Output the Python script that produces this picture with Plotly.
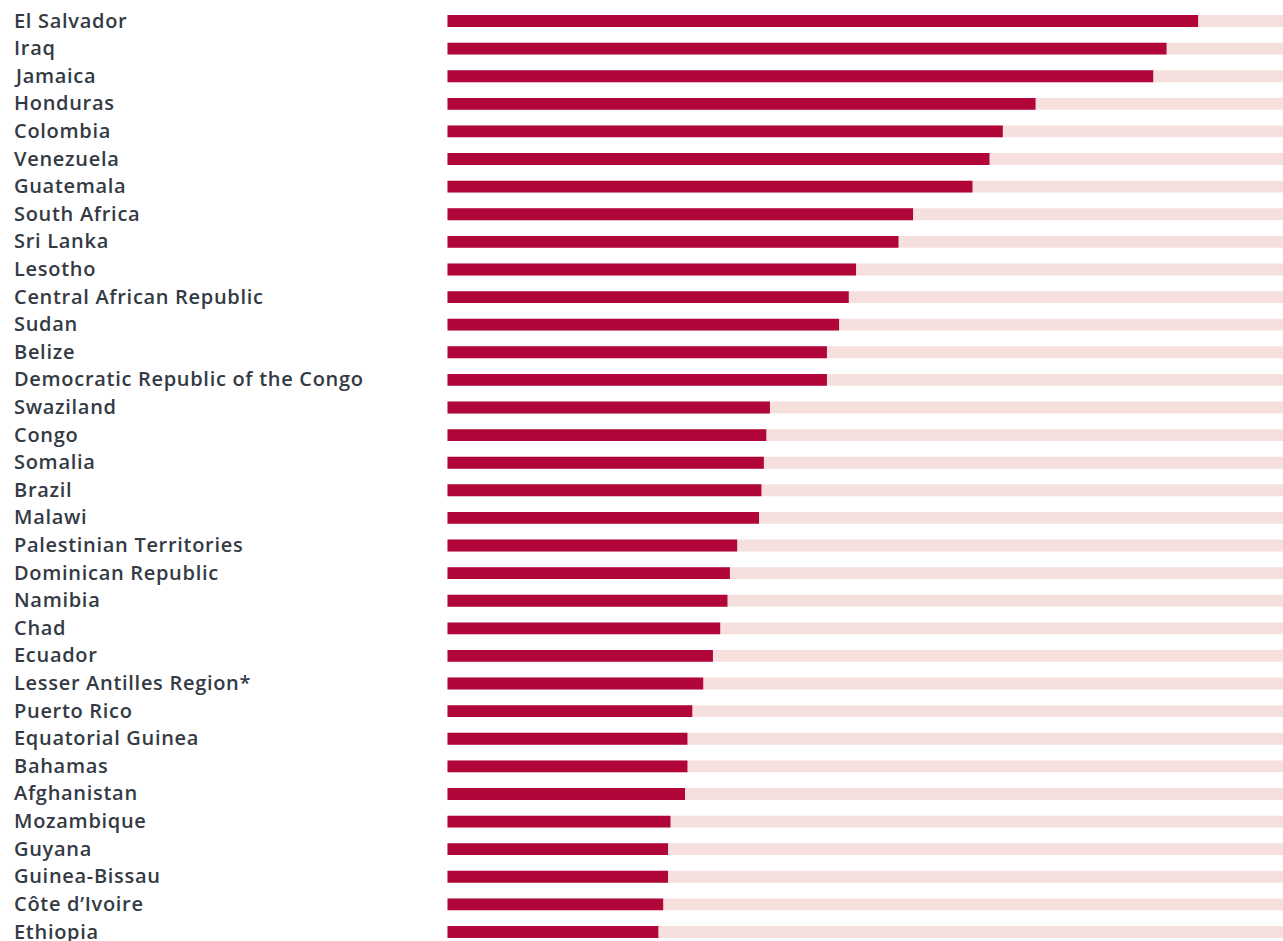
import plotly.graph_objects as go

countries = [
    "El Salvador", "Iraq", "Jamaica", "Honduras", "Colombia", "Venezuela",
    "Guatemala", "South Africa", "Sri Lanka", "Lesotho", "Central African Republic",
    "Sudan", "Belize", "Democratic Republic of the Congo", "Swaziland", "Congo",
    "Somalia", "Brazil", "Malawi", "Palestinian Territories", "Dominican Republic",
    "Namibia", "Chad", "Ecuador", "Lesser Antilles Region*", "Puerto Rico",
    "Equatorial Guinea", "Bahamas", "Afghanistan", "Mozambique", "Guyana",
    "Guinea-Bissau", "Côte d\u2019Ivoire", "Ethiopia",
]
values = [
    61.9, 59.3, 58.2, 48.5, 45.8, 44.7,
    43.3, 38.4, 37.2, 33.7, 33.1,
    32.3, 31.3, 31.3, 26.6, 26.3,
    26.1, 25.9, 25.7, 23.9, 23.3,
    23.1, 22.5, 21.9, 21.1, 20.2,
    19.8, 19.8, 19.6, 18.4, 18.2,
    18.2, 17.8, 17.4,
]
scale_max = 68.9
background = [scale_max] * len(countries)

BAR = "#b0063a"
BG = "#f6e0de"
TEXT = "#343a44"

W, H = 1283, 941

fig = go.Figure()
fig.add_trace(go.Bar(
    x=background, y=countries, orientation="h",
    marker=dict(color=BG, line=dict(width=0)),
    width=0.43, hoverinfo="skip", showlegend=False,
))
fig.add_trace(go.Bar(
    x=values, y=countries, orientation="h",
    marker=dict(color=BAR, line=dict(width=0)),
    width=0.43, showlegend=False,
    hovertemplate="%{y}: %{x}<extra></extra>",
))

for c in countries:
    fig.add_annotation(
        x=12 / W, xref="paper", xanchor="left",
        y=c, yref="y", yanchor="middle", yshift=1,
        text='<span style="letter-spacing:0.7px">' + c + "</span>",
        showarrow=False,
        font=dict(family="Open Sans", size=20, weight=600, color=TEXT),
    )

row_px = (932 - 21) / 33
r0 = -21 / row_px
r1 = r0 + H / row_px

fig.update_layout(
    width=W, height=H,
    margin=dict(l=0, r=0, t=0, b=0),
    paper_bgcolor="white", plot_bgcolor="white",
    barmode="overlay",
    xaxis=dict(domain=[447.3 / W, 1], range=[0, scale_max],
               visible=False, fixedrange=True),
    yaxis=dict(categoryorder="array", categoryarray=countries,
               range=[r1, r0], visible=False, fixedrange=True),
)

fig.write_html(
    "out.html",
    config={"displayModeBar": False},
    post_script="document.body.style.margin='0';document.body.style.overflow='hidden';",
)
